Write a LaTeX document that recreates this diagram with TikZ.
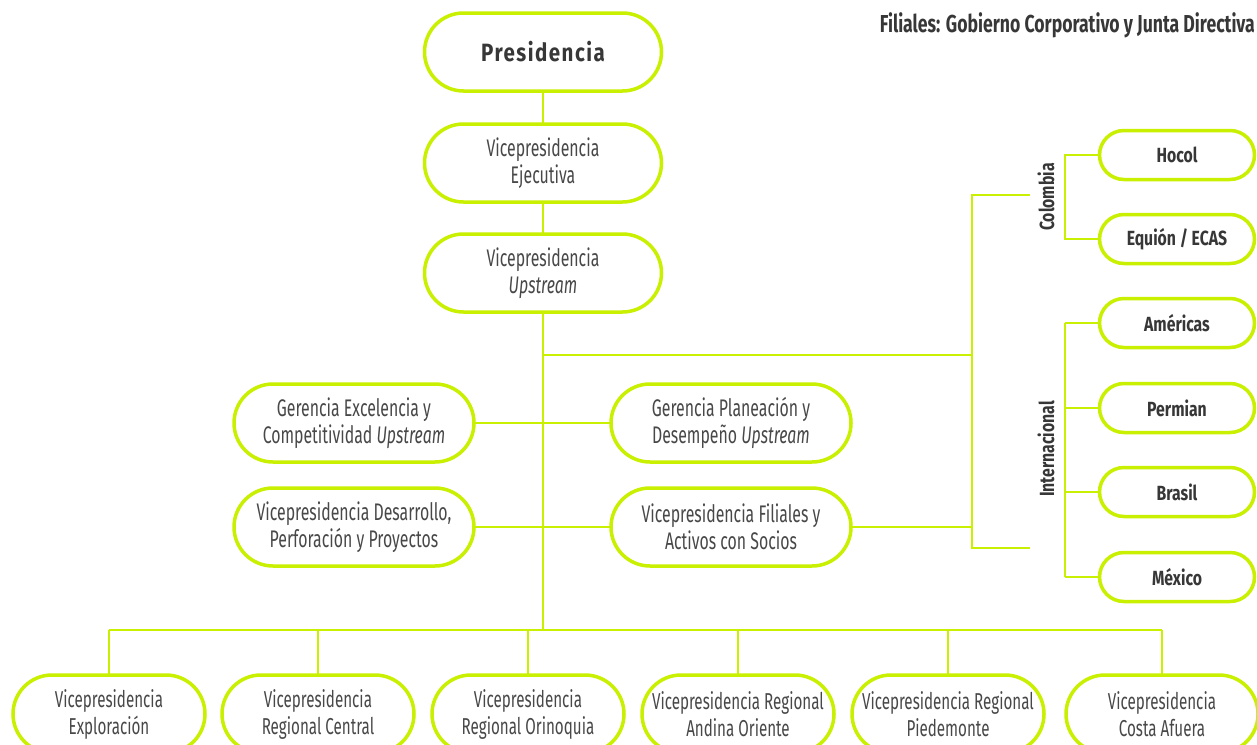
\documentclass[tikz,border=0pt]{standalone}
\usepackage{fontspec}
\newfontfamily\lightf{Fira Sans}[FakeStretch=0.66]
\newfontfamily\boldf{Fira Sans}[FakeStretch=0.77]
\newfontfamily\titlef{Fira Sans}[FakeStretch=0.72]
\newfontfamily\presf{Fira Sans}[FakeStretch=0.82, LetterSpace=6]
\definecolor{lime}{RGB}{200,240,0}
\definecolor{txt}{RGB}{55,55,55}
\definecolor{ltxt}{RGB}{72,72,72}
\begin{document}
\begin{tikzpicture}[x=1pt,y=-1pt,
  pill/.style={draw=lime, line width=3.5pt, fill=white, align=center, text=ltxt, inner sep=0pt,
    font=\lightf\fontsize{24}{27}\selectfont},
  bigpill/.style={pill, minimum width=237pt, minimum height=78pt, rounded corners=39pt},
  midpill/.style={pill, minimum width=240pt, minimum height=78pt, rounded corners=39pt},
  lowpill/.style={pill, minimum width=192pt, minimum height=78pt, rounded corners=39pt,
    font=\lightf\fontsize{23}{27}\selectfont},
  subpill/.style={pill, text=txt, minimum width=155pt, minimum height=49pt, rounded corners=24.5pt,
    font=\boldf\bfseries\fontsize{20.5}{25}\selectfont},
  conn/.style={draw=lime, line width=1.5pt},
  lbl/.style={text=txt, font=\boldf\bfseries\fontsize{20.5}{25}\selectfont, inner sep=0pt}]
\useasboundingbox (0,0) rectangle (1257,744);
\clip (0,0) rectangle (1257,744);

% coordinates
\coordinate (trunkL) at (543,630);
\coordinate (split) at (543,355);
\coordinate (fr) at (972,355);
\coordinate (ftop) at (972,195);
\coordinate (fbot) at (972,548);
\coordinate (fmid) at (972,527);
\coordinate (ctop) at (1030,195);
\coordinate (cbot) at (1030,548);
\coordinate (colA) at (1065,155);
\coordinate (colB) at (1065,239);
\coordinate (intA) at (1065,323);
\coordinate (intB) at (1065,408);
\coordinate (intC) at (1065,492);
\coordinate (intD) at (1065,577);

% connectors first (under boxes)
\draw[conn] (543,52) -- (trunkL);
\draw[conn] (split) -- (fr);
\draw[conn] (354,423) -- (731,423);
\draw[conn] (354,527) -- (fmid);
\draw[conn] (ctop) -- (ftop) -- (fbot) -- (cbot);
\draw[conn] (1177,155) -- (colA) -- (colB) -- (1177,239);
\draw[conn] (intA) -- (intD);
\draw[conn] (1177,323) -- (intA);
\draw[conn] (1177,408) -- (intB);
\draw[conn] (1177,492) -- (intC);
\draw[conn] (1177,577) -- (intD);
\coordinate (b1) at (109,630);
\coordinate (b2) at (318,630);
\coordinate (b3) at (528,630);
\coordinate (b4) at (738,630);
\coordinate (b5) at (948,630);
\coordinate (b6) at (1162,630);
\draw[conn] (b1) -- (b6);
\foreach \i in {1,...,6} \draw[conn] (b\i) -- ++(0,60);

% boxes
\node[bigpill, text=txt, font=\presf\bfseries\fontsize{25}{28}\selectfont] (pres) at (543,52) {Presidencia};
\node[bigpill] (ejec) at (543,163) {Vicepresidencia\\Ejecutiva};
\node[bigpill] (ups) at (543,273) {Vicepresidencia\\\textit{Upstream}};
\node[midpill] (gex) at (354,423) {Gerencia Excelencia y\\Competitividad \textit{Upstream}};
\node[midpill] (gpl) at (731,423) {Gerencia Planeación y\\Desempeño \textit{Upstream}};
\node[midpill] (vdes) at (354,527) {Vicepresidencia Desarrollo,\\Perforación y Proyectos};
\node[midpill] (vfil) at (731,527) {Vicepresidencia Filiales y\\Activos con Socios};

\node[lowpill] (l1) at (109,714) {Vicepresidencia\\Exploración};
\node[lowpill] (l2) at (318,714) {Vicepresidencia\\Regional Central};
\node[lowpill] (l3) at (528,714) {Vicepresidencia\\Regional Orinoquia};
\node[lowpill] (l4) at (738,714) {Vicepresidencia Regional\\Andina Oriente};
\node[lowpill] (l5) at (948,714) {Vicepresidencia Regional\\Piedemonte};
\node[lowpill] (l6) at (1162,714) {Vicepresidencia\\Costa Afuera};

\node[subpill] (hocol) at (1177,155) {Hocol};
\node[subpill] (equion) at (1177,239) {Equión / ECAS};
\node[subpill] (amer) at (1177,323) {Américas};
\node[subpill] (perm) at (1177,408) {Permian};
\node[subpill] (bras) at (1177,492) {Brasil};
\node[subpill] (mex) at (1177,577) {México};

\node[lbl, rotate=90] (colo) at (1046,197) {Colombia};
\node[lbl, rotate=90] (inter) at (1046,449) {Internacional};
\node[lbl, anchor=base east, font=\titlef\bfseries\fontsize{24.5}{28}\selectfont] (title) at (1255,32) {Filiales: Gobierno Corporativo y Junta Directiva};
\end{tikzpicture}
\end{document}
